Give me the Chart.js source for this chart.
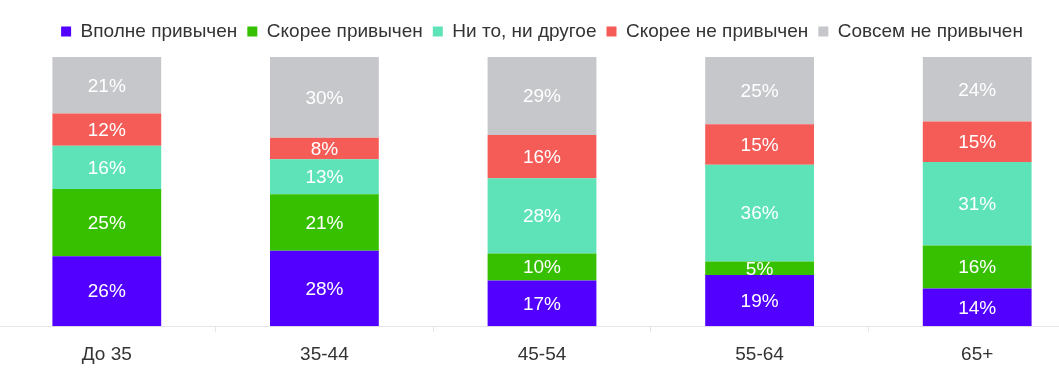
<!DOCTYPE html>
<html>
<head>
<meta charset="utf-8">
<script src="https://cdn.jsdelivr.net/npm/chart.js@4"></script>
<style>
  html, body { margin: 0; padding: 0; background: #fff; overflow: hidden; }
  #wrap { position: absolute; left: -2px; top: 0; width: 1088px; height: 377px; }
</style>
</head>
<body>
<div id="wrap"><canvas id="chart"></canvas></div>
<script>
  const categories = ['До 35', '35-44', '45-54', '55-64', '65+'];
  const seriesNames = ['Вполне привычен', 'Скорее привычен', 'Ни то, ни другое', 'Скорее не привычен', 'Совсем не привычен'];
  const vpolne = [26, 28, 17, 19, 14];
  const skoree = [25, 21, 10, 5, 16];
  const niTo = [16, 13, 28, 36, 31];
  const skoreeNe = [12, 8, 16, 15, 15];
  const sovsemNe = [21, 30, 29, 25, 24];
  const COLORS = ['#5200ff', '#36c000', '#5ee3b8', '#f55c57', '#c5c7ca'];

  const FONT = '"Liberation Sans", Arial, sans-serif';

  // подписи внутри сегментов
  const segLabels = {
    id: 'segLabels',
    afterDatasetsDraw(chart) {
      const ctx = chart.ctx;
      ctx.save();
      ctx.font = '19px ' + FONT;
      ctx.fillStyle = '#ffffff';
      ctx.textAlign = 'center';
      ctx.textBaseline = 'middle';
      chart.data.datasets.forEach((ds, i) => {
        chart.getDatasetMeta(i).data.forEach((bar, j) => {
          const y = (bar.y + bar.base) / 2;
          ctx.fillText(ds.data[j] + '%', bar.x, y + 1);
        });
      });
      ctx.restore();
    }
  };

  // немного воздуха под легендой
  const legendGap = {
    id: 'legendGap',
    beforeInit(chart) {
      const fit = chart.legend.fit;
      chart.legend.fit = function () { fit.bind(this)(); this.height += 6; };
    }
  };

  const allData = [vpolne, skoree, niTo, skoreeNe, sovsemNe];

  new Chart(document.getElementById('chart'), {
    type: 'bar',
    data: {
      labels: categories,
      datasets: allData.map((d, i) => ({
        label: seriesNames[i],
        data: d,
        backgroundColor: COLORS[i],
        borderWidth: 0,
        categoryPercentage: 1,
        barPercentage: 0.5,
      })),
    },
    options: {
      responsive: true,
      maintainAspectRatio: false,
      animation: false,
      layout: { padding: { top: 12, bottom: 0, left: 0, right: 0 } },
      plugins: {
        legend: {
          position: 'top',
          labels: { boxWidth: 10, boxHeight: 10, padding: 10, color: '#333333', font: { size: 19, family: FONT } },
        },
        tooltip: { enabled: false },
      },
      scales: {
        x: {
          stacked: true,
          grid: { drawOnChartArea: false, color: '#e6e6e6', tickLength: 6, offset: true },
          border: { color: '#e6e6e6' },
          ticks: { color: '#333333', padding: 11, font: { size: 19, family: FONT } },
        },
        y: { stacked: true, min: 0, max: 100, display: false },
      },
    },
    plugins: [segLabels, legendGap],
  });
</script>
</body>
</html>
